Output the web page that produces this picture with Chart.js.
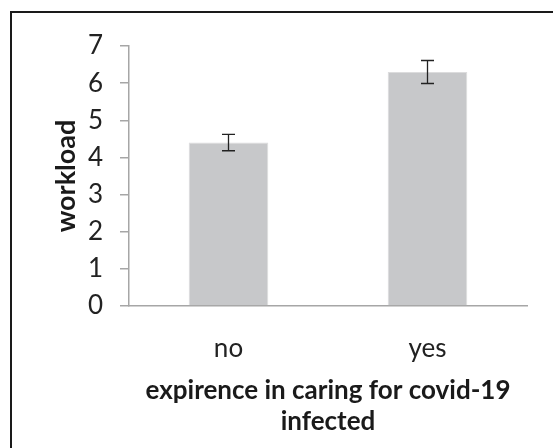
<!DOCTYPE html>
<html>
<head>
<meta charset="utf-8">
<script src="https://cdn.jsdelivr.net/npm/chart.js@4/dist/chart.umd.min.js"></script>
<style>
  html, body { margin: 0; padding: 0; background: #fff; }
  #wrap { position: relative; width: 553px; height: 448px; overflow: hidden; }
  #frame { position: absolute; left: 10px; top: 11px; width: 560px; height: 460px; border: 2px solid #1a1a1a; box-sizing: border-box; }
  canvas { position: absolute; left: 0; top: 0; }
</style>
</head>
<body>
<div id="wrap">
  <div id="frame"></div>
  <canvas id="chart" width="553" height="448"></canvas>
</div>
<script>
const categories = ['no', 'yes'];
const workload = [4.4, 6.3];
const workloadErr = [0.22, 0.31];
const yTicks = [0, 1, 2, 3, 4, 5, 6, 7];

const FONT = 'Lato, "Open Sans", sans-serif';

// Draw the error bars from the dataset values
const errorBars = {
  id: 'errorBars',
  afterDatasetsDraw(chart) {
    const ctx = chart.ctx;
    const meta = chart.getDatasetMeta(0);
    const y = chart.scales.y;
    ctx.save();
    ctx.strokeStyle = '#222';
    ctx.lineWidth = 1.3;
    meta.data.forEach((bar, i) => {
      const top = y.getPixelForValue(workload[i] + workloadErr[i]);
      const bot = y.getPixelForValue(workload[i] - workloadErr[i]);
      const half = 6.5;
      ctx.beginPath();
      ctx.moveTo(bar.x, top); ctx.lineTo(bar.x, bot);
      ctx.moveTo(bar.x - half, top); ctx.lineTo(bar.x + half, top);
      ctx.moveTo(bar.x - half, bot); ctx.lineTo(bar.x + half, bot);
      ctx.stroke();
    });
    ctx.restore();
  }
};

new Chart(document.getElementById('chart').getContext('2d'), {
  type: 'bar',
  data: {
    labels: categories,
    datasets: [{
      data: workload,
      backgroundColor: '#c7c8ca',
      borderColor: '#dcdcdd',
      borderWidth: 1,
      categoryPercentage: 1,
      barPercentage: 0.4
    }]
  },
  options: {
    responsive: false,
    animation: false,
    layout: { padding: { left: 0, right: 26, top: 46, bottom: 0 } },
    plugins: { legend: { display: false }, tooltip: { enabled: false } },
    scales: {
      x: {
        afterFit(scale) { scale.height = 142; },
        grid: { display: false, drawTicks: false },
        border: { display: true, color: '#a6a6a6', width: 1.5 },
        ticks: { color: '#222', padding: 27, font: { family: FONT, size: 26 } },
        title: {
          display: true,
          text: ['expirence in caring for covid-19', 'infected'],
          color: '#1a1a1a',
          font: { family: FONT, size: 26, weight: 'bold', lineHeight: 1.2 },
          padding: { top: 0, bottom: 11 }
        }
      },
      y: {
        min: 0,
        max: 7,
        afterFit(scale) { scale.width = 129; },
        afterBuildTicks(scale) { scale.ticks = yTicks.map(v => ({ value: v })); },
        grid: { drawOnChartArea: false, drawTicks: true, tickLength: 9, color: '#a6a6a6', lineWidth: 1.5 },
        border: { display: true, color: '#a6a6a6', width: 1.5 },
        ticks: { color: '#222', padding: 17, font: { family: FONT, size: 26 } },
        title: {
          display: true,
          text: 'workload',
          color: '#1a1a1a',
          font: { family: FONT, size: 27, weight: 'bold', lineHeight: 1.2 },
          padding: { top: 50, bottom: 0 }
        }
      }
    }
  },
  plugins: [errorBars]
});
</script>
</body>
</html>
